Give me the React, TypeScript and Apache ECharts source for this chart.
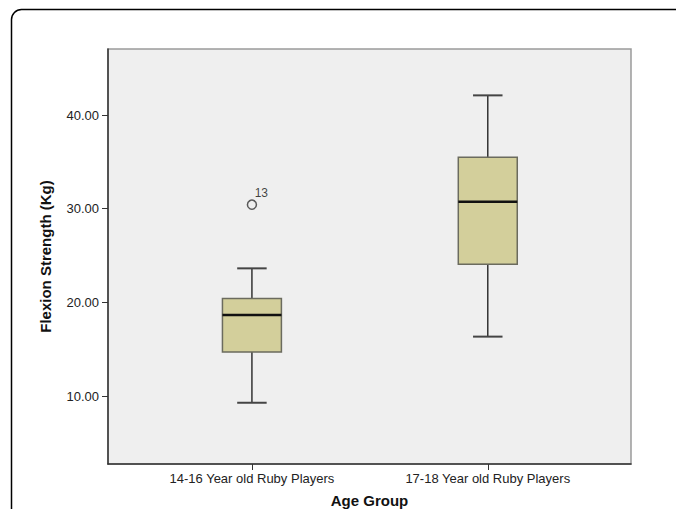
import React, { useEffect, useRef } from "react";
import * as echarts from "echarts";

const categories = ["14-16 Year old Ruby Players", "17-18 Year old Ruby Players"];
// [lower whisker, Q1, median, Q3, upper whisker]
const group1Stats = [9.28, 14.7, 18.65, 20.4, 23.63];
const group2Stats = [16.34, 24.06, 30.75, 35.49, 42.1];
const outlierCategory = [0];
const outlierValues = [30.43];
const outlierIds = ["13"];
const yTicks = [10, 20, 30, 40];
const yMin = 2.74;
const yMax = 47.05;

const FONT = "'Liberation Sans', Arial, sans-serif";

export default function App() {
  const ref = useRef<HTMLDivElement>(null);
  useEffect(() => {
    if (!ref.current) return;
    const chart = echarts.init(ref.current, null, { renderer: "svg" });
    const boxData = [group1Stats, group2Stats].map((s, i) => [i, ...s]);
    const outliers = outlierCategory.map((c, i) => [c, outlierValues[i]]);
    const option: any = {
      animation: false,
      backgroundColor: "#ffffff",
      textStyle: { fontFamily: FONT },
      graphic: [
        {
          type: "rect",
          shape: { x: 11.5, y: 9.5, width: 720, height: 560, r: 10 },
          style: { fill: "none", stroke: "#000", lineWidth: 1.5 },
          silent: true,
        },
      ],
      grid: [
        {
          left: 108,
          right: 45,
          top: 49,
          bottom: 45,
          outerBoundsMode: "none",
          containLabel: false,
          show: true,
          backgroundColor: "#efefef",
          borderColor: "#9a9a9a",
          borderWidth: 1.5,
        },
        { left: 134, right: 70.3, top: 49, bottom: 45, outerBoundsMode: "none", containLabel: false },
      ],
      xAxis: [
        {
          type: "value",
          gridIndex: 0,
          min: 0,
          max: 1,
          axisLine: { show: true, onZero: false, lineStyle: { color: "#333", width: 1.5 } },
          axisTick: { show: false },
          axisLabel: { show: false },
          splitLine: { show: false },
          name: "Age Group",
          nameLocation: "middle",
          nameGap: 29,
          nameTextStyle: { fontSize: 15, fontWeight: "bold", color: "#111", fontFamily: FONT },
        },
        {
          type: "category",
          gridIndex: 1,
          data: categories,
          axisLine: { show: false },
          axisTick: { show: true, alignWithLabel: true, length: 6, lineStyle: { color: "#333", width: 1 } },
          axisLabel: { fontSize: 13, color: "#222", margin: 8, fontFamily: FONT },
          splitLine: { show: false },
        },
      ],
      yAxis: [
        {
          type: "value",
          gridIndex: 0,
          min: yMin,
          max: yMax,
          axisLine: { show: true, onZero: false, lineStyle: { color: "#333", width: 1.5 } },
          axisTick: { show: true, customValues: yTicks, length: 6, lineStyle: { color: "#333", width: 1 } },
          axisLabel: {
            customValues: yTicks,
            formatter: (v: number) => v.toFixed(2),
            fontSize: 13,
            color: "#222",
            margin: 9,
            fontFamily: FONT,
          },
          splitLine: { show: false },
          name: "Flexion Strength (Kg)",
          nameLocation: "middle",
          nameGap: 55,
          nameRotate: 90,
          nameTextStyle: { fontSize: 15, fontWeight: "bold", color: "#111", fontFamily: FONT },
        },
        { type: "value", gridIndex: 1, min: yMin, max: yMax, show: false },
      ],
      series: [
        {
          type: "custom",
          xAxisIndex: 1,
          yAxisIndex: 1,
          data: boxData,
          encode: { x: 0, y: [1, 2, 3, 4, 5] },
          renderItem: (params: any, api: any) => {
            const c = api.value(0);
            const lo = api.coord([c, api.value(1)]);
            const q1 = api.coord([c, api.value(2)]);
            const md = api.coord([c, api.value(3)]);
            const q3 = api.coord([c, api.value(4)]);
            const hi = api.coord([c, api.value(5)]);
            const band = api.size([1, 0])[0];
            const bw = band * 0.25;
            const cw = band * 0.125;
            const x = lo[0];
            const wl = { stroke: "#333", lineWidth: 1.5 };
            return {
              type: "group",
              children: [
                { type: "line", shape: { x1: x, y1: lo[1], x2: x, y2: q1[1] }, style: wl },
                { type: "line", shape: { x1: x, y1: q3[1], x2: x, y2: hi[1] }, style: wl },
                { type: "line", shape: { x1: x - cw / 2, y1: lo[1], x2: x + cw / 2, y2: lo[1] }, style: { stroke: "#444", lineWidth: 2 } },
                { type: "line", shape: { x1: x - cw / 2, y1: hi[1], x2: x + cw / 2, y2: hi[1] }, style: { stroke: "#444", lineWidth: 2 } },
                {
                  type: "rect",
                  shape: { x: x - bw / 2, y: q3[1], width: bw, height: q1[1] - q3[1] },
                  style: { fill: "#d3cf9b", stroke: "#6b6b5e", lineWidth: 1.5 },
                },
                { type: "line", shape: { x1: x - bw / 2, y1: md[1], x2: x + bw / 2, y2: md[1] }, style: { stroke: "#111", lineWidth: 2.5 } },
              ],
            };
          },
        },
        {
          type: "scatter",
          xAxisIndex: 1,
          yAxisIndex: 1,
          data: outliers,
          symbol: "circle",
          symbolSize: 9,
          itemStyle: { color: "#efefef", borderColor: "#333", borderWidth: 1.5 },
          label: {
            show: true,
            formatter: (p: any) => outlierIds[p.dataIndex],
            position: [8, -12],
            fontSize: 12,
            color: "#111",
            textBorderWidth: 0,
            fontFamily: FONT,
          },
          emphasis: { disabled: true },
        },
      ],
    };
    chart.setOption(option);
    return () => chart.dispose();
  }, []);
  return <div ref={ref} style={{ position: "fixed", left: 0, top: 0, width: 676, height: 509 }} />;
}
